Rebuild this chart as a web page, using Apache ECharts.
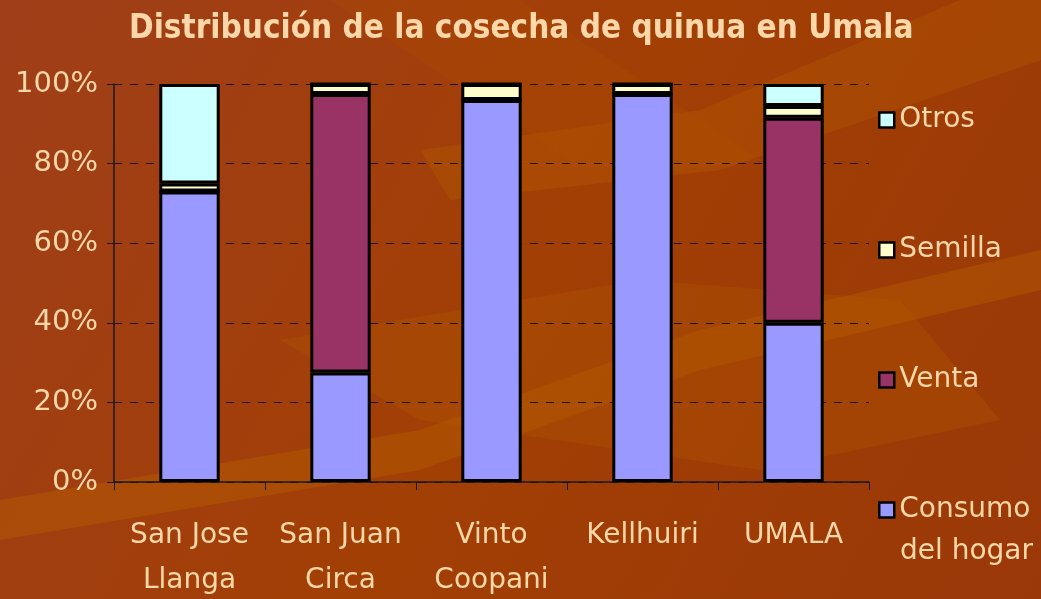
<!DOCTYPE html>
<html><head><meta charset="utf-8">
<script src="https://cdn.jsdelivr.net/npm/echarts@6/dist/echarts.min.js"></script>
<style>html,body{margin:0;padding:0;}#c{width:1041px;height:599px;}</style>
</head><body><div id="c"></div>
<script>
const categories = ['San Jose\nLlanga', 'San Juan\nCirca', 'Vinto\nCoopani', 'Kellhuiri', 'UMALA'];
const consumo = [73, 27.5, 96, 97.5, 40];
const venta = [0, 70, 0, 0, 51.5];
const semilla = [2, 2.5, 4, 2.5, 3];
const otros = [25, 0, 0, 0, 5.5];
const yTicks = ['0%', '20%', '40%', '60%', '80%', '100%'];
const seriesNames = ['Consumo del hogar', 'Venta', 'Semilla', 'Otros'];

const txt = '#FFD7A8';
const chart = echarts.init(document.getElementById('c'));
const bar = (name, data, color) => ({
  name, type: 'bar', stack: 's', data, barWidth: '40%',
  itemStyle: { color, borderColor: '#000', borderWidth: 3 },
  emphasis: { disabled: true }
});
chart.setOption({
  backgroundColor: {
    type: 'linear', x: 0, y: 0, x2: 1, y2: 1,
    colorStops: [{ offset: 0, color: '#a03e1a' }, { offset: 0.5, color: '#a23f05' }, { offset: 1, color: '#9a3808' }]
  },
  graphic: [
    { type: 'polygon', z: -10, silent: true, shape: { points: [[0, 500], [420, 430], [700, 330], [1041, 250], [1041, 290], [700, 370], [420, 470], [0, 540]] }, style: { fill: 'rgba(190,100,0,0.35)' } },
    { type: 'polygon', z: -10, silent: true, shape: { points: [[280, 340], [640, 280], [900, 300], [1000, 420], [760, 470], [420, 420]] }, style: { fill: 'rgba(180,90,0,0.3)' } },
    { type: 'polygon', z: -10, silent: true, shape: { points: [[420, 150], [700, 110], [960, 0], [1041, 0], [1041, 60], [720, 170], [450, 200]] }, style: { fill: 'rgba(185,95,0,0.3)' } },
    { type: 'polygon', z: -10, silent: true, shape: { points: [[330, 0], [520, 0], [760, 160], [600, 180]] }, style: { fill: 'rgba(175,80,0,0.25)' } },
    { type: 'text', left: 900, top: 538, silent: true,
      style: { text: 'del hogar', fill: txt, font: '28px "DejaVu Sans"' } }
  ],
  title: {
    text: 'Distribución de la cosecha de quinua en Umala',
    left: 124, top: 8,
    textStyle: { color: txt, fontFamily: 'DejaVu Sans Condensed', fontWeight: 'bold', fontSize: 33 }
  },
  legend: {
    orient: 'vertical', left: 873, top: 97, itemGap: 94, height: 520,
    itemWidth: 15, itemHeight: 15, icon: 'rect',
    data: ['Otros', 'Semilla', 'Venta', 'Consumo del hogar'],
    formatter: n => n === 'Consumo del hogar' ? 'Consumo' : n,
    textStyle: { color: txt, fontFamily: 'DejaVu Sans', fontSize: 28, lineHeight: 36 },
    itemStyle: { borderColor: '#000', borderWidth: 2.5 },
    selectedMode: false
  },
  grid: { left: 114, right: 172, top: 84, bottom: 117, containLabel: false, outerBoundsMode: 'none' },
  xAxis: {
    type: 'category', data: categories,
    axisLine: { lineStyle: { color: '#1a1a1a', width: 1.5 } },
    axisTick: { show: true, length: 8, lineStyle: { color: '#1a1a1a' } },
    axisLabel: { interval: 0, color: txt, fontFamily: 'DejaVu Sans', fontSize: 28, lineHeight: 45, margin: 31 }
  },
  yAxis: {
    type: 'value', min: 0, max: 100, interval: 20,
    axisLine: { show: true, lineStyle: { color: '#1a1a1a', width: 1.5 } },
    axisTick: { show: true, length: 7, lineStyle: { color: '#1a1a1a' } },
    axisLabel: { color: txt, fontFamily: 'DejaVu Sans', fontSize: 29, margin: 16,
      formatter: v => yTicks[Math.round(v / 20)] },
    splitLine: { lineStyle: { color: '#111', type: [8, 8], width: 1 } }
  },
  series: [
    bar(seriesNames[0], consumo, '#9999FF'),
    bar(seriesNames[1], venta, '#993366'),
    bar(seriesNames[2], semilla, '#FFFFCC'),
    bar(seriesNames[3], otros, '#CCFFFF')
  ]
});
</script></body></html>
